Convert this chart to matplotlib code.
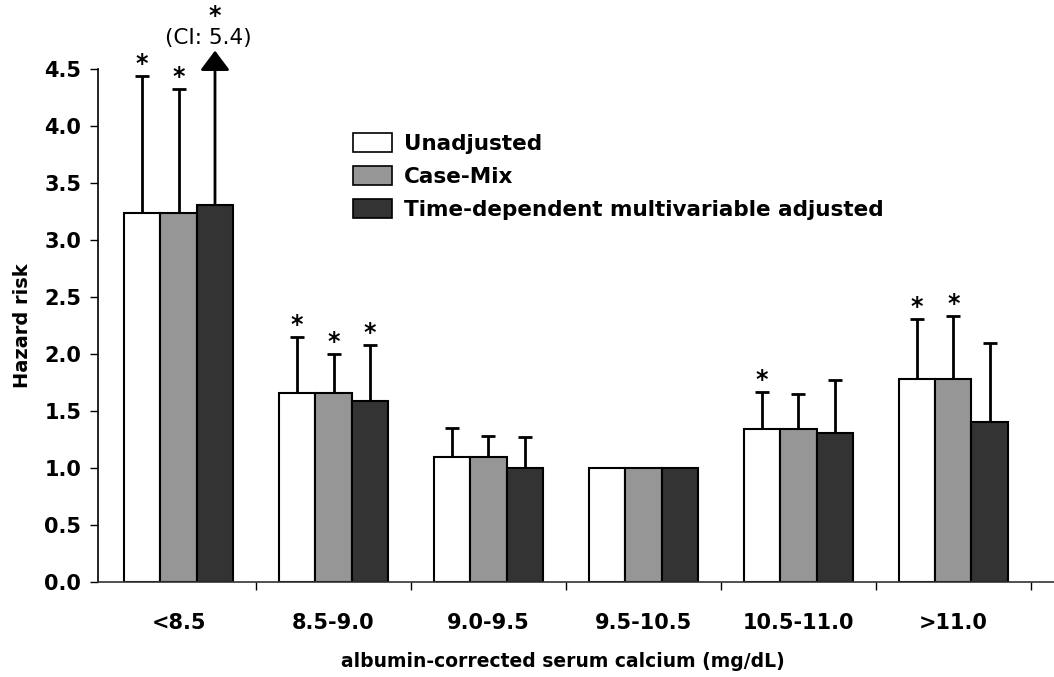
import matplotlib
matplotlib.use('Agg')
import matplotlib.pyplot as plt
import numpy as np

plt.rcParams['font.family'] = ['DejaVu Sans']

categories = ['<8.5', '8.5-9.0', '9.0-9.5', '9.5-10.5', '10.5-11.0', '>11.0']
series = ['Unadjusted', 'Case-Mix', 'Time-dependent multivariable adjusted']
colors = ['#ffffff', '#969696', '#333333']

# hazard ratios and upper CI bound per series
unadjusted = [3.24, 1.66, 1.10, 1.00, 1.34, 1.78]
unadjusted_hi = [4.44, 2.15, 1.35, 1.00, 1.67, 2.31]
casemix = [3.24, 1.66, 1.10, 1.00, 1.34, 1.78]
casemix_hi = [4.32, 2.00, 1.28, 1.00, 1.65, 2.33]
timedep = [3.31, 1.59, 1.00, 1.00, 1.31, 1.40]
timedep_hi = [5.4, 2.08, 1.27, 1.00, 1.77, 2.10]

# significance markers (* above CI)
signif = [
    [True, True, False, False, True, True],
    [True, True, False, False, False, True],
    [True, True, False, False, False, False],
]

values = [unadjusted, casemix, timedep]
uppers = [unadjusted_hi, casemix_hi, timedep_hi]
y_max = 4.5

fig = plt.figure(figsize=(10.54, 6.77), dpi=100)
ax = fig.add_axes([0.093, 0.1403, 0.907, 0.758])

x = np.arange(len(categories))
w = 0.235
for i in range(3):
    xs = x + (i - 1) * w
    ax.bar(xs, values[i], width=w, color=colors[i], edgecolor='black', linewidth=1.5, zorder=2)
    for j in range(len(categories)):
        v = values[i][j]
        hi = uppers[i][j]
        if hi <= v:
            continue
        if hi > y_max:
            # CI runs off the chart: draw an arrow instead
            ax.annotate('', xy=(xs[j], 4.66), xytext=(xs[j], v),
                        arrowprops=dict(arrowstyle='-|>,head_length=0.6,head_width=0.45',
                                        lw=2, color='black', shrinkA=0, shrinkB=0,
                                        mutation_scale=20),
                        annotation_clip=False, zorder=1)
            ax.text(xs[j] - 0.04, 4.77, '(CI: %.1f)' % hi, ha='center', va='center', fontsize=15.5)
            if signif[i][j]:
                ax.text(xs[j], 4.86, '*', ha='center', va='bottom', fontsize=17, fontweight='bold')
        else:
            ax.errorbar(xs[j], v, yerr=[[0], [hi - v]], fmt='none', ecolor='black',
                        elinewidth=2, capsize=4.7, capthick=2, zorder=1)
            if signif[i][j]:
                ax.text(xs[j], hi, '*', ha='center', va='bottom', fontsize=17, fontweight='bold')

ax.set_xlim(-0.52, 5.65)
ax.set_ylim(0, y_max)
ax.set_yticks(np.arange(0, 4.51, 0.5))
ax.set_yticklabels(['%.1f' % t for t in np.arange(0, 4.51, 0.5)], fontsize=15, fontweight='bold')
ax.set_xticks(x)
ax.set_xticklabels(categories, fontsize=15, fontweight='bold')
ax.set_xticks(np.arange(0.5, 5.6, 1), minor=True)
ax.tick_params(axis='x', which='major', length=0, pad=22)
ax.tick_params(axis='x', which='minor', length=6, width=1, direction='out')
ax.tick_params(axis='y', length=6, width=1, direction='out', pad=6)

for s in ['top', 'right']:
    ax.spines[s].set_visible(False)
ax.spines['left'].set_linewidth(1.2)
ax.spines['bottom'].set_linewidth(1.2)
ax.spines['bottom'].set_color('#333333')

ax.set_ylabel('Hazard risk', fontsize=14, fontweight='bold', labelpad=9)
ax.set_xlabel('albumin-corrected serum calcium (mg/dL)', fontsize=13.5, fontweight='bold', labelpad=14)
ax.xaxis.set_label_coords(0.486, -0.137)

handles = [plt.Rectangle((0, 0), 1, 1, facecolor=c, edgecolor='black', linewidth=1.2) for c in colors]
fig.legend(handles, series, loc='upper left', bbox_to_anchor=(353 / 1054, 1 - 133 / 677),
           frameon=False, prop={'weight': 'bold', 'size': 15.5}, handlelength=1.8,
           handleheight=1.0, handletextpad=0.55, labelspacing=0.55, borderpad=0, borderaxespad=0)

fig.savefig('out.png', dpi=100)
